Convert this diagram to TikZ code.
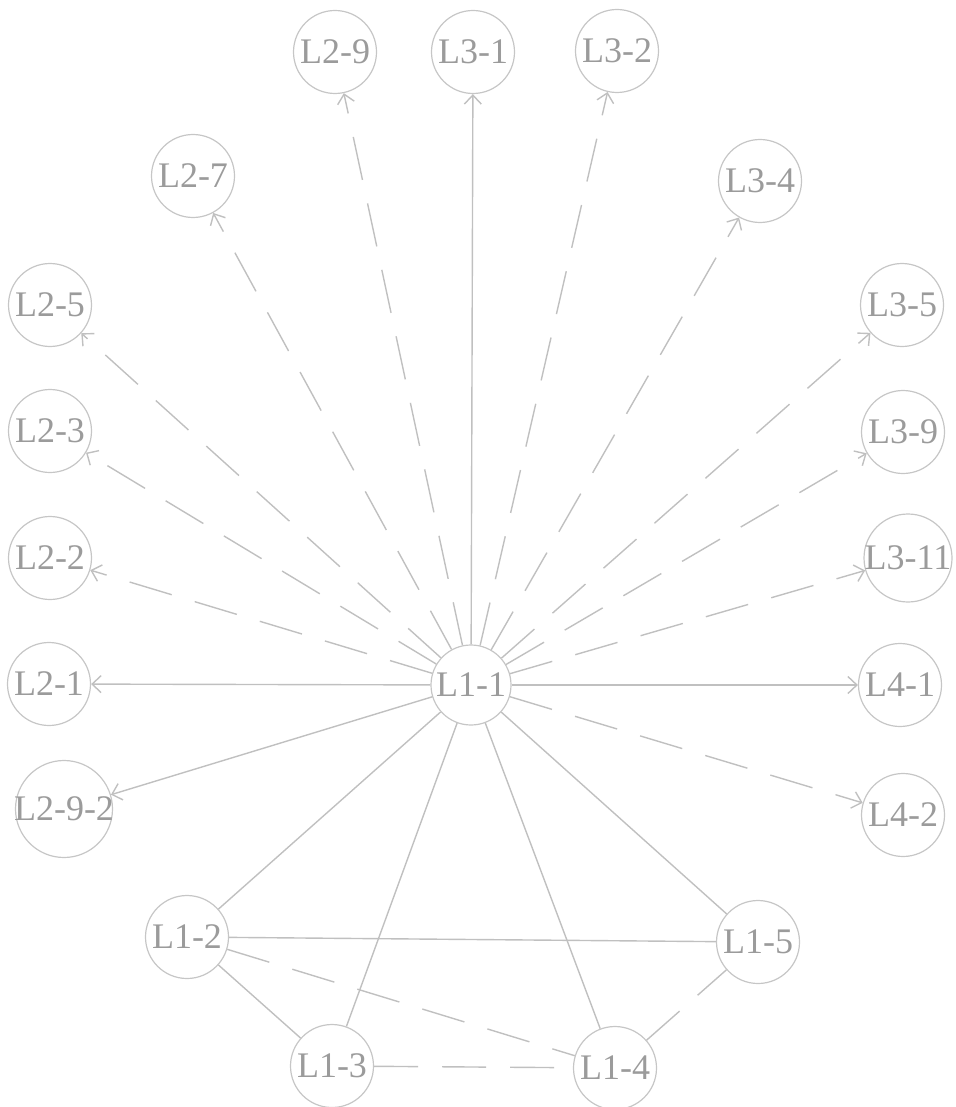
\documentclass[tikz,border=0pt]{standalone}
\usepackage{fontspec}
\setmainfont{Liberation Serif}
\usetikzlibrary{arrows.meta}
\definecolor{edgegray}{RGB}{192,192,192}
\definecolor{ringgray}{RGB}{198,198,198}
\definecolor{labelgray}{RGB}{155,155,155}
% label text takes no width, so every circle keeps its set size
\newcommand\vlabel[1]{\makebox[0pt]{#1}}
\begin{document}
\begin{tikzpicture}[x=1pt,y=-1pt,
  vtx/.style={circle, draw=ringgray, line width=1.2pt, minimum size=83pt,
    inner sep=0pt, text=labelgray, font=\fontsize{36}{42}\selectfont},
  link/.style={draw=edgegray, line width=1.4pt},
  dashlink/.style={link, dash pattern=on 44pt off 24pt},
  tip/.style={-{Straight Barb[length=9pt,width=17pt]}}
]
\useasboundingbox (0,0) rectangle (955,1107);

% centre node
\node[vtx, minimum size=80pt] (l11) at (471,685) {\vlabel{L1-1}};

% outer ring
\node[vtx] (l29) at (335,52) {\vlabel{L2-9}};
\node[vtx] (l31) at (473,52) {\vlabel{L3-1}};
\node[vtx] (l32) at (617,51) {\vlabel{L3-2}};
\node[vtx] (l27) at (193,176) {\vlabel{L2-7}};
\node[vtx] (l34) at (760,181) {\vlabel{L3-4}};
\node[vtx] (l25) at (50,305) {\vlabel{L2-5}};
\node[vtx] (l35) at (902,305) {\vlabel{L3-5}};
\node[vtx] (l23) at (50,431) {\vlabel{L2-3}};
\node[vtx] (l39) at (903,432) {\vlabel{L3-9}};
\node[vtx] (l22) at (50,558) {\vlabel{L2-2}};
\node[vtx, minimum size=88pt] (l311) at (908,558) {\vlabel{L3-11}};
\node[vtx] (l21) at (49,684) {\vlabel{L2-1}};
\node[vtx] (l41) at (900,685) {\vlabel{L4-1}};
\node[vtx, minimum size=97pt] (l292) at (64,809) {\vlabel{L2-9-2}};
\node[vtx] (l42) at (903,815) {\vlabel{L4-2}};

% lower group
\node[vtx] (l12) at (187,937) {\vlabel{L1-2}};
\node[vtx] (l15) at (758,942) {\vlabel{L1-5}};
\node[vtx] (l13) at (332,1066) {\vlabel{L1-3}};
\node[vtx] (l14) at (615,1068) {\vlabel{L1-4}};

% directed edges out of L1-1
\draw[dashlink, tip] (l11) -- (l29);
\draw[link, tip] (l11) -- (l31);
\draw[dashlink, tip] (l11) -- (l32);
\draw[dashlink, tip] (l11) -- (l27);
\draw[dashlink, tip] (l11) -- (l34);
\draw[dashlink, tip] (l11) -- (l25);
\draw[dashlink, tip] (l11) -- (l35);
\draw[dashlink, tip] (l11) -- (l23);
\draw[dashlink, tip] (l11) -- (l39);
\draw[dashlink, tip] (l11) -- (l22);
\draw[dashlink, tip] (l11) -- (l311);
\draw[link, tip] (l11) -- (l21);
\draw[link, tip] (l11) -- (l41);
\draw[link, tip] (l11) -- (l292);
\draw[dashlink, tip] (l11) -- (l42);

% undirected edges
\draw[link] (l11) -- (l12);
\draw[link] (l11) -- (l13);
\draw[link] (l11) -- (l14);
\draw[link] (l11) -- (l15);
\draw[link] (l12) -- (l15);
\draw[link] (l12) -- (l13);
\draw[dashlink] (l12) -- (l14);
\draw[dashlink] (l13) -- (l14);
\draw[dashlink] (l14) -- (l15);
\end{tikzpicture}
\end{document}
